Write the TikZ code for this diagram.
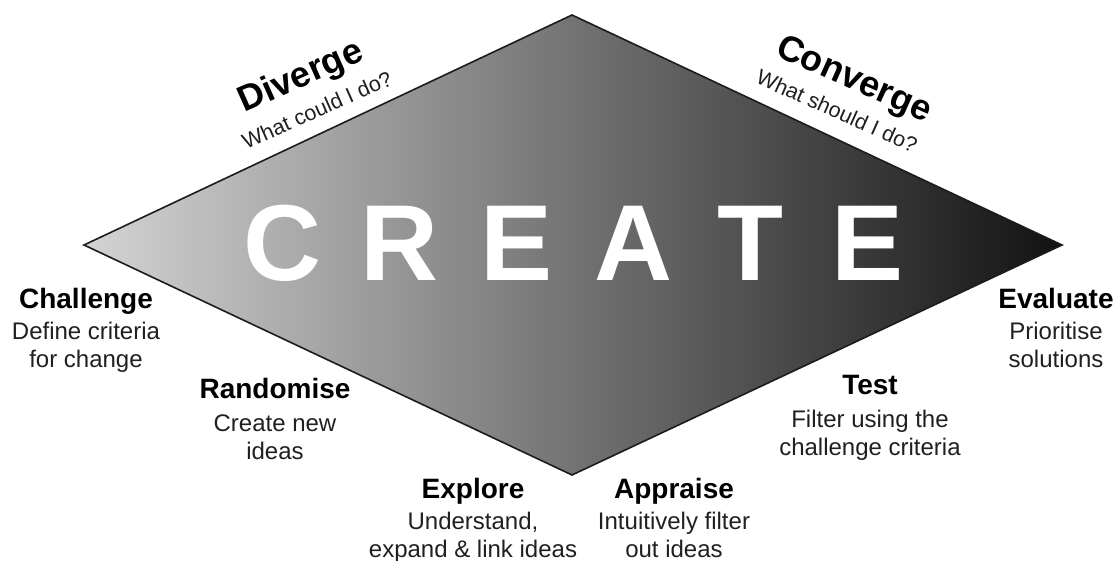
\documentclass[tikz,border=0pt]{standalone}
\usepackage{fontspec}
\setmainfont{Liberation Sans}
\definecolor{shadeL}{HTML}{D4D4D4}
\definecolor{shadeR}{HTML}{121212}
\definecolor{edgecol}{HTML}{1C1C1C}
\definecolor{desccol}{HTML}{202020}
\begin{document}
\begin{tikzpicture}[x=1pt,y=-1pt,
  titlefont/.style={font=\fontsize{28}{30}\selectfont\bfseries, inner sep=0pt, anchor=base},
  descfont/.style={font=\fontsize{24}{28}\selectfont, text=desccol, inner sep=0pt, anchor=base, align=center},
  bigtitle/.style={font=\fontsize{36}{40}\selectfont\bfseries, inner sep=0pt, anchor=base},
  bigsub/.style={font=\fontsize{21.5}{24}\selectfont, text=desccol, inner sep=0pt, anchor=base}]
\useasboundingbox (0,0) rectangle (1120,561);
\fill[white] (0,0) rectangle (1120,561);
% diamond
\coordinate (L) at (84,245);
\coordinate (T) at (572,15);
\coordinate (R) at (1062,245);
\coordinate (B) at (572,475);
\path[left color=shadeL, right color=shadeR] (L) -- (T) -- (R) -- (B) -- cycle;
\draw[edgecol, line width=1.6pt, line join=miter] (L) -- (T) -- (R) -- (B) -- cycle;
% big word
\node[font=\fontsize{108}{110}\selectfont\bfseries, text=white, inner sep=0pt, anchor=base] (create) at (574.75,281)
  {\makebox[117pt]{C}\makebox[117pt]{R}\makebox[117pt]{E}\makebox[117pt]{A}\makebox[117pt]{T}\makebox[117pt]{E}};
% rotated headings
\node[bigtitle, rotate=24] (diverge) at (305,86) {Diverge};
\node[bigsub, rotate=24] (divergeq) at (320,117) {What could I do?};
\node[bigtitle, rotate=-24] (converge) at (850,89) {Converge};
\node[bigsub, rotate=-24] (convergeq) at (834,118) {What should I do?};
% stage labels (description node base = its last line)
\node[titlefont] (challenge) at (86,309) {Challenge};
\node[descfont] (challengeD) at (86,368) {Define criteria\\for change};
\node[titlefont] (randomise) at (275,399) {Randomise};
\node[descfont] (randomiseD) at (275,459) {Create new\\ideas};
\node[titlefont] (explore) at (473,498) {Explore};
\node[descfont] (exploreD) at (473,557) {Understand,\\expand \& link ideas};
\node[titlefont] (appraise) at (674,498) {Appraise};
\node[descfont] (appraiseD) at (674,557) {Intuitively filter\\out ideas};
\node[titlefont] (test) at (870,395) {Test};
\node[descfont] (testD) at (870,455) {Filter using the\\challenge criteria};
\node[titlefont] (evaluate) at (1056,309) {Evaluate};
\node[descfont] (evaluateD) at (1056,368) {Prioritise\\solutions};
\end{tikzpicture}
\end{document}
